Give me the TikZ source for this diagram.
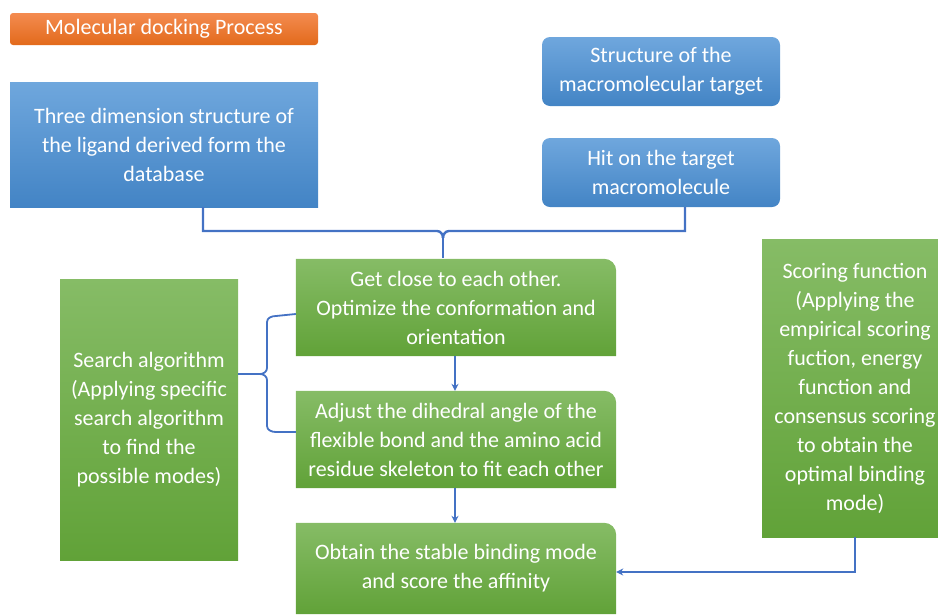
\documentclass[tikz,border=0pt]{standalone}
\usepackage{fontspec}
\setmainfont{Carlito}
\usetikzlibrary{arrows.meta,backgrounds,calc}
\definecolor{conncol}{HTML}{4472C4}
\definecolor{orT}{HTML}{F48B50}
\definecolor{orB}{HTML}{E26A1B}
\definecolor{blT}{HTML}{6FA7DD}
\definecolor{blB}{HTML}{4384C5}
\definecolor{grT}{HTML}{86BC66}
\definecolor{grB}{HTML}{61A238}
\tikzset{
  x=1pt,y=1pt,
  txt/.style={inner sep=0pt,text=white,align=center,font=\fontsize{22}{29}\selectfont},
  bluebox/.style={txt,top color=blT,bottom color=blB},
  greenbox/.style={txt,top color=grT,bottom color=grB},
  greenplain/.style={txt},
  conn/.style={draw=conncol,line width=2.4pt},
  arr/.style={conn,-{Stealth[length=7pt,width=7pt]}},
}
\newcommand{\trshade}[3]{% node name, colour top, colour bottom
  \shade[top color=#2,bottom color=#3]
    (#1.south west) -- (#1.north west) -- ($(#1.north east)+(-12,0)$)
    arc[start angle=90,end angle=0,radius=12] -- (#1.south east) -- cycle;}
\begin{document}
\begin{tikzpicture}
\useasboundingbox (0,0) rectangle (938,-614);
% header
\node[txt,top color=orT,bottom color=orB,rounded corners=3pt,minimum width=308,minimum height=32] (title) at (164,-29) {Molecular docking Process};
% blue boxes
\node[bluebox,minimum width=308,minimum height=125] (three) at (164,-144.5) {Three dimension structure of\\the ligand derived form the\\database};
\node[bluebox,rounded corners=8pt,minimum width=238,minimum height=69] (struct) at (661,-71.5) {Structure of the\\macromolecular target};
\node[bluebox,rounded corners=8pt,minimum width=238,minimum height=69] (hit) at (661,-172.5) {Hit on the target\\macromolecule};
% green boxes
\node[greenbox,minimum width=178,minimum height=281] (search) at (149,-419.5) {Search algorithm\\(Applying specific\\search algorithm\\to find the\\possible modes)};
\node[greenbox,minimum width=186,minimum height=298] (scoring) at (855,-388) {Scoring function\\(Applying the\\empirical scoring\\fuction, energy\\function and\\consensus scoring\\to obtain the\\optimal binding\\mode)};
\node[greenplain,minimum width=320,minimum height=97] (close) at (456,-307.5) {Get close to each other.\\Optimize the conformation and\\orientation};
\node[greenplain,minimum width=320,minimum height=97] (adjust) at (456,-439.5) {Adjust the dihedral angle of the\\flexible bond and the amino acid\\residue skeleton to fit each other};
\node[greenplain,minimum width=320,minimum height=91] (obtain) at (456,-568.5) {Obtain the stable binding mode\\and score the affinity};
\begin{scope}[on background layer]
  \trshade{close}{grT}{grB}
  \trshade{adjust}{grT}{grB}
  \trshade{obtain}{grT}{grB}
\end{scope}
% connectors
\coordinate (j) at (443,-238);
\draw[conn] ([xshift=39]three.south) -- (203,-231) -- (437,-231) to[out=0,in=90] (j);
\draw[conn] ([xshift=24]hit.south) -- (685,-231) -- (449,-231) to[out=180,in=90] (j);
\draw[conn] (j) -- (443,-258);
\draw[arr] ([xshift=-1]close.south) -- ([xshift=-1]adjust.north);
\draw[arr] ([xshift=-1]adjust.south) -- ([xshift=-1]obtain.north);
\draw[arr] (scoring.south) |- ([yshift=-3.5]obtain.east);
% brace
\draw[conn,line width=1.8pt] ([yshift=45.5]search.east) -- (260,-374) to[out=0,in=-90] (267,-368) -- (267,-322) to[out=90,in=180] (276,-316) -- ([yshift=-6.5]close.west);
\draw[conn,line width=1.8pt] (260,-374) to[out=0,in=90] (267,-380) -- (267,-426) to[out=-90,in=180] (276,-432) -- ([yshift=7.5]adjust.west);
\end{tikzpicture}
\end{document}
